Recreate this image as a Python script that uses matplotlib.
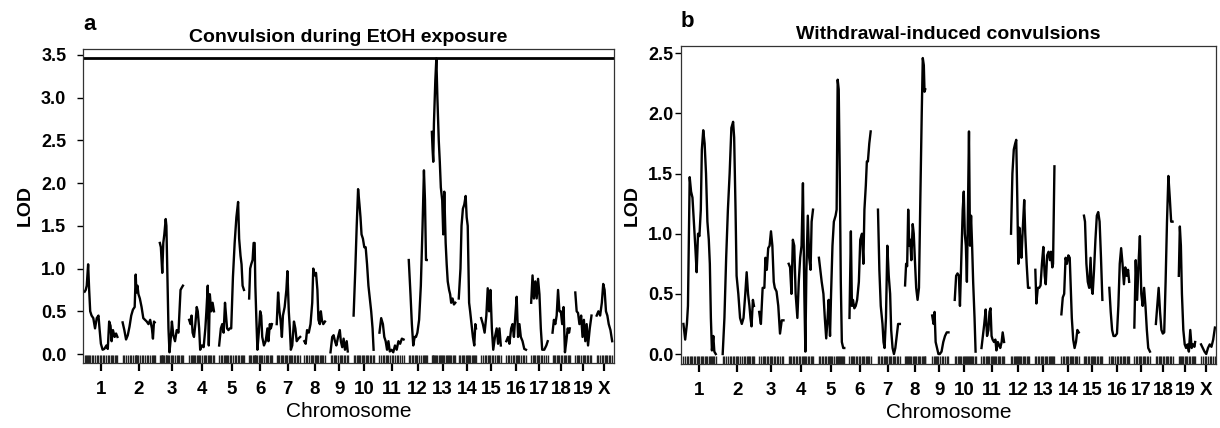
import numpy as np
import matplotlib
matplotlib.use('Agg')
import matplotlib.pyplot as plt

plt.rcParams['font.family'] = ['Liberation Sans', 'DejaVu Sans']

chromosomes = ['1', '2', '3', '4', '5', '6', '7', '8', '9', '10',
               '11', '12', '13', '14', '15', '16', '17', '18', '19', 'X']
# genetic length of each chromosome (cM) and spacing between them
chrom_len = [95, 93, 70, 72, 72, 65, 65, 61, 52, 60,
             70, 52, 63, 50, 58, 57, 47, 51, 47, 45]
gap = 15
threshold = 3.47

# a: convulsion during EtOH exposure, positions (cM) and LOD per chromosome
etoh_pos = [
    [0, 3, 6, 10, 13, 16, 20, 25, 30, 35, 40, 43, 47, 52, 57, 63, 67, 71, 75, 78, 82, 87, 91, 95],
    [0, 5, 10, 15, 20, 25, 30, 35, 38, 40, 43, 46, 50, 55, 60, 65, 70, 75, 80, 85, 88, 91, 93],
    [0, 3, 5, 7, 10, 13, 17, 19, 22, 25, 28, 32, 35, 39, 44, 49, 54, 57, 60, 64, 67],
    [0, 4, 7, 10, 14, 18, 22, 25, 29, 32, 37, 42, 47, 50, 54, 57, 60, 64, 68, 72],
    [0, 5, 9, 13, 17, 20, 23, 27, 31, 35, 40, 45, 50, 55, 58, 62, 65, 68, 72],
    [0, 3, 6, 10, 13, 16, 18, 21, 24, 28, 32, 35, 38, 43, 48, 53, 56, 60, 63, 66],
    [0, 4, 8, 11, 15, 18, 23, 28, 31, 35, 38, 41, 45, 50, 54, 58, 63, 68],
    [0, 4, 8, 13, 18, 23, 26, 30, 34, 38, 41, 45, 48, 51, 55, 60],
    [0, 5, 9, 13, 17, 22, 27, 30, 34, 38, 42, 47, 50],
    [0, 5, 9, 13, 17, 20, 23, 27, 31, 35, 39, 43, 47, 51, 55, 58],
    [0, 5, 10, 14, 18, 22, 26, 30, 35, 40, 45, 50, 55, 60, 65, 70],
    [0, 5, 9, 13, 17, 21, 25, 30, 35, 40, 44, 47, 50, 52],
    [0, 2, 4, 6, 10, 13, 16, 20, 23, 26, 30, 33, 36, 40, 43, 46, 50, 53, 56, 60, 64, 68],
    [0, 5, 8, 12, 16, 20, 23, 26, 30, 33, 37, 41, 45, 48, 50],
    [0, 5, 10, 15, 19, 23, 27, 31, 35, 40, 45, 49, 53, 57],
    [0, 5, 9, 14, 18, 22, 27, 30, 34, 38, 42, 47, 52, 57],
    [0, 4, 8, 12, 16, 20, 24, 28, 32, 38, 44, 48],
    [0, 4, 8, 12, 16, 20, 24, 28, 32, 36, 40, 44, 48, 50],
    [0, 4, 8, 12, 17, 21, 25, 29, 33, 37, 42, 47],
    [0, 5, 10, 15, 19, 23, 27, 31, 35, 40, 45],
]
etoh_lod = [
    [0.73, 0.75, 0.8, 1.05, 0.75, 0.5, 0.45, 0.42, 0.3, 0.42, 0.45, 0.3, 0.12, 0.05, 0.06, 0.1, 0.06, 0.38, 0.33, 0.15, 0.28, 0.2, 0.24, 0.2],
    [0.37, 0.28, 0.17, 0.22, 0.32, 0.45, 0.52, 0.55, 0.93, 0.72, 0.8, 0.7, 0.65, 0.55, 0.42, 0.4, 0.38, 0.35, 0.4, 0.3, 0.18, 0.38, 0.37],
    [1.3, 1.25, 1.1, 0.95, 1.3, 1.4, 1.58, 1.5, 0.9, 0.3, 0.02, 0.2, 0.38, 0.22, 0.15, 0.28, 0.25, 0.5, 0.75, 0.78, 0.8],
    [0.4, 0.35, 0.45, 0.25, 0.2, 0.35, 0.55, 0.5, 0.3, 0.05, 0.1, 0.08, 0.3, 0.5, 0.8, 0.1, 0.7, 0.5, 0.6, 0.5],
    [0.1, 0.3, 0.35, 0.25, 0.6, 0.45, 0.3, 0.28, 0.3, 0.3, 0.9, 1.3, 1.6, 1.78, 1.35, 1.15, 1.05, 0.8, 0.75],
    [0.65, 1.0, 1.05, 1.1, 1.3, 1.3, 0.8, 0.4, 0.05, 0.25, 0.5, 0.45, 0.2, 0.1, 0.15, 0.3, 0.15, 0.35, 0.3, 0.35],
    [0.35, 0.72, 0.5, 0.4, 0.2, 0.45, 0.55, 0.75, 0.97, 0.5, 0.3, 0.05, 0.1, 0.38, 0.3, 0.15, 0.18, 0.2],
    [0.15, 0.12, 0.28, 0.25, 0.35, 0.6, 1.0, 0.92, 0.95, 0.75, 0.4, 0.35, 0.5, 0.4, 0.35, 0.38],
    [0.02, 0.2, 0.22, 0.15, 0.1, 0.2, 0.28, 0.15, 0.08, 0.18, 0.05, 0.15, 0.03],
    [0.45, 1.0, 1.5, 1.93, 1.75, 1.6, 1.4, 1.35, 1.25, 1.25, 1.05, 0.8, 0.65, 0.5, 0.3, 0.05],
    [0.25, 0.42, 0.35, 0.2, 0.15, 0.05, 0.15, 0.03, 0.05, 0.02, 0.1, 0.05, 0.15, 0.12, 0.18, 0.17],
    [1.1, 0.7, 0.35, 0.1, 0.2, 0.2, 0.25, 0.4, 0.8, 1.5, 2.15, 1.8, 1.1, 1.1],
    [2.6, 2.4, 2.25, 2.7, 3.2, 3.46, 3.0, 2.5, 2.25, 1.95, 1.8, 1.4, 1.9, 1.3, 1.05, 0.85, 0.75, 0.7, 0.6, 0.65, 0.58, 0.6],
    [0.65, 1.0, 1.5, 1.7, 1.75, 1.85, 1.6, 1.5, 0.6, 0.5, 0.35, 0.2, 0.1, 0.35, 0.3],
    [0.42, 0.35, 0.25, 0.45, 0.77, 0.5, 0.75, 0.3, 0.05, 0.2, 0.3, 0.12, 0.3, 0.1],
    [0.15, 0.2, 0.12, 0.3, 0.35, 0.2, 0.5, 0.67, 0.2, 0.35, 0.2, 0.15, 0.06, 0.05],
    [0.6, 0.92, 0.65, 0.85, 0.65, 0.88, 0.7, 0.3, 0.05, 0.05, 0.1, 0.15],
    [0.25, 0.4, 0.35, 0.45, 0.75, 0.5, 0.5, 0.35, 0.55, 0.02, 0.15, 0.3, 0.25, 0.3],
    [0.72, 0.5, 0.48, 0.35, 0.45, 0.2, 0.4, 0.15, 0.35, 0.1, 0.3, 0.45],
    [0.45, 0.5, 0.45, 0.6, 0.82, 0.75, 0.5, 0.45, 0.35, 0.28, 0.15],
]

# b: withdrawal-induced convulsions
wd_pos = [
    [2, 7, 12, 15, 20, 24, 28, 32, 36, 40, 44, 48, 52, 55, 59, 63, 67, 71, 75, 78, 81, 84, 88, 91, 95],
    [5, 10, 15, 20, 25, 30, 35, 38, 42, 45, 50, 55, 60, 65, 70, 74, 78, 82, 85, 88, 92, 95],
    [2, 7, 12, 17, 20, 24, 28, 32, 36, 40, 44, 47, 52, 57, 62, 67, 72],
    [2, 6, 10, 14, 18, 22, 27, 31, 35, 39, 43, 47, 50, 53, 57, 61, 65, 68, 72],
    [2, 6, 10, 15, 19, 23, 27, 30, 34, 37, 41, 45, 50, 53, 56, 59, 62, 65, 68, 72, 75],
    [3, 7, 10, 13, 17, 21, 25, 30, 34, 39, 43, 46, 50, 53, 56, 60, 64],
    [5, 9, 13, 18, 21, 24, 28, 32, 36, 40, 43, 47, 51, 55, 59, 63, 68],
    [3, 6, 9, 12, 15, 18, 21, 25, 28, 31, 35, 39, 43, 47, 51, 54, 57, 59, 61],
    [5, 9, 12, 15, 19, 23, 27, 32, 37, 42, 47, 52],
    [3, 7, 11, 15, 18, 22, 26, 29, 32, 35, 38, 41, 44, 47, 50, 53, 56, 60, 63],
    [5, 9, 13, 17, 21, 25, 28, 31, 34, 37, 41, 45, 48, 52, 55, 59, 63, 66, 70],
    [5, 9, 13, 17, 20, 23, 26, 29, 32, 35, 39, 43, 46, 50, 54, 58],
    [8, 11, 15, 19, 23, 27, 31, 35, 38, 42, 46, 50, 53, 57, 59, 63],
    [5, 9, 13, 17, 21, 25, 29, 32, 35, 39, 43, 47, 51, 55],
    [5, 8, 12, 16, 20, 24, 27, 30, 34, 38, 42, 46, 50, 54, 58],
    [5, 9, 13, 17, 22, 27, 31, 35, 39, 43, 47, 51, 55, 59, 62],
    [5, 9, 13, 17, 21, 25, 29, 33, 37, 41, 45, 50],
    [5, 9, 13, 17, 21, 25, 29, 33, 37, 41, 45, 49, 53],
    [5, 8, 11, 14, 18, 22, 26, 30, 34, 38, 42, 46, 50, 52],
    [7, 12, 17, 22, 27, 32, 37, 42, 47],
]
wd_lod = [
    [0.25, 0.12, 0.25, 0.4, 1.47, 1.35, 1.3, 1.1, 0.9, 0.68, 1.0, 0.98, 1.2, 1.7, 1.86, 1.75, 1.5, 1.1, 0.95, 0.75, 0.3, 0.03, 0.15, 0.02, 0.0],
    [0.0, 0.3, 0.8, 1.2, 1.5, 1.88, 1.93, 1.8, 1.2, 0.65, 0.5, 0.3, 0.25, 0.3, 0.5, 0.68, 0.5, 0.4, 0.3, 0.23, 0.45, 0.4],
    [0.35, 0.25, 0.55, 0.55, 0.8, 0.7, 0.88, 0.9, 1.02, 0.9, 0.6, 0.55, 0.52, 0.4, 0.17, 0.28, 0.28],
    [0.75, 0.72, 0.5, 0.95, 0.9, 0.5, 0.3, 0.6, 0.8, 0.9, 1.42, 0.5, 0.02, 0.7, 1.15, 0.8, 0.7, 1.1, 1.2],
    [0.8, 0.7, 0.6, 0.5, 0.3, 0.13, 0.3, 0.45, 0.15, 0.5, 0.9, 1.1, 1.15, 1.2, 2.28, 2.2, 1.5, 0.6, 0.1, 0.05, 0.05],
    [0.3, 1.02, 0.4, 0.45, 0.38, 0.4, 0.45, 0.6, 0.95, 1.0, 0.75, 1.2, 1.4, 1.6, 1.6, 1.75, 1.85],
    [1.2, 0.7, 0.4, 0.25, 0.1, 0.05, 0.3, 0.9, 0.65, 0.5, 0.2, 0.05, 0.0, 0.05, 0.15, 0.25, 0.25],
    [0.57, 0.75, 0.73, 1.2, 0.9, 0.95, 0.78, 1.08, 1.0, 0.8, 0.55, 0.45, 0.55, 1.3, 2.0, 2.46, 2.4, 2.18, 2.2],
    [0.32, 0.25, 0.35, 0.1, 0.05, 0.0, 0.0, 0.02, 0.1, 0.15, 0.18, 0.18],
    [0.45, 0.65, 0.67, 0.65, 0.4, 0.8, 1.2, 1.35, 1.0, 0.9, 0.6, 1.2, 1.85, 0.9, 1.15, 0.9, 0.6, 0.3, 0.02],
    [0.05, 0.15, 0.25, 0.37, 0.15, 0.2, 0.35, 0.38, 0.15, 0.12, 0.1, 0.12, 0.03, 0.1, 0.08, 0.05, 0.1, 0.18, 0.1],
    [1.0, 1.5, 1.7, 1.75, 1.78, 1.3, 0.75, 1.05, 0.95, 0.8, 1.05, 1.28, 1.0, 0.75, 0.55, 0.55],
    [0.7, 0.42, 0.55, 0.55, 0.57, 0.75, 0.89, 0.65, 0.58, 0.82, 0.85, 0.78, 0.85, 0.72, 0.75, 1.56],
    [0.33, 0.47, 0.5, 0.8, 0.75, 0.82, 0.8, 0.55, 0.3, 0.12, 0.05, 0.1, 0.2, 0.18],
    [1.15, 1.1, 0.75, 0.6, 0.55, 0.8, 0.55, 0.5, 0.7, 0.95, 1.15, 1.18, 1.1, 0.8, 0.45],
    [0.55, 0.35, 0.2, 0.15, 0.15, 0.17, 0.4, 0.75, 0.88, 0.75, 0.58, 0.72, 0.65, 0.7, 0.6],
    [0.22, 0.78, 0.45, 0.75, 0.98, 0.5, 0.4, 0.55, 0.4, 0.2, 0.05, 0.02],
    [0.25, 0.4, 0.55, 0.35, 0.2, 0.17, 0.18, 0.6, 1.1, 1.48, 1.3, 1.1, 1.1],
    [0.65, 1.06, 0.9, 0.5, 0.2, 0.08, 0.05, 0.08, 0.02, 0.2, 0.05, 0.08, 0.06, 0.1],
    [0.08, 0.05, 0.02, 0.0, 0.05, 0.08, 0.06, 0.12, 0.22],
]

starts = np.concatenate([[0], np.cumsum(np.array(chrom_len[:-1]) + gap)])
mids = starts + np.array(chrom_len) / 2.0


def lod_panel(ax, pos, lod, title, letter, ylim, yticks, pad):
    for i in range(len(chromosomes)):
        x = starts[i] + np.array(pos[i])
        ax.plot(x, lod[i], color='black', lw=1.7)
        # marker rug along the bottom
        ax.vlines(x, 0, 0.026, transform=ax.get_xaxis_transform(), color='#222222', lw=1.0)
    ax.set_xlim(-5, 1535)
    ax.set_ylim(*ylim)
    ax.set_yticks(yticks)
    ax.set_yticklabels(['%.1f' % t for t in yticks], fontweight='bold', fontsize=13)
    ax.set_xticks(mids)
    ax.set_xticklabels(chromosomes, fontweight='bold', fontsize=13.5)
    ax.tick_params(axis='x', length=6, width=1.6, pad=7)
    ax.tick_params(axis='y', length=4, width=1, pad=pad)
    for s in ax.spines.values():
        s.set_color('#333333')
        s.set_linewidth(0.9)
    ax.set_ylabel('LOD', fontweight='bold', fontsize=14, labelpad=5)
    ax.set_xlabel('Chromosome', fontsize=15, labelpad=3)
    ax.set_title(title, fontsize=14, fontweight='bold', pad=5)
    ax.text(0.0, 1.045, letter, transform=ax.transAxes, fontsize=16, fontweight='bold', va='bottom')


fig = plt.figure(figsize=(12.2, 4.28), dpi=100)
ax1 = fig.add_axes([0.0680, 0.1519, 0.4352, 0.7336])
ax2 = fig.add_axes([0.5582, 0.1495, 0.4385, 0.7430])

lod_panel(ax1, etoh_pos, etoh_lod, 'Convulsion during EtOH exposure', 'a',
          (-0.105, 3.57), [0.0, 0.5, 1.0, 1.5, 2.0, 2.5, 3.0, 3.5], 8)
ax1.axhline(threshold, color='black', lw=2)

lod_panel(ax2, wd_pos, wd_lod, 'Withdrawal-induced convulsions', 'b',
          (-0.083, 2.56), [0.0, 0.5, 1.0, 1.5, 2.0, 2.5], 1.5)

fig.savefig('out.png', dpi=100)
